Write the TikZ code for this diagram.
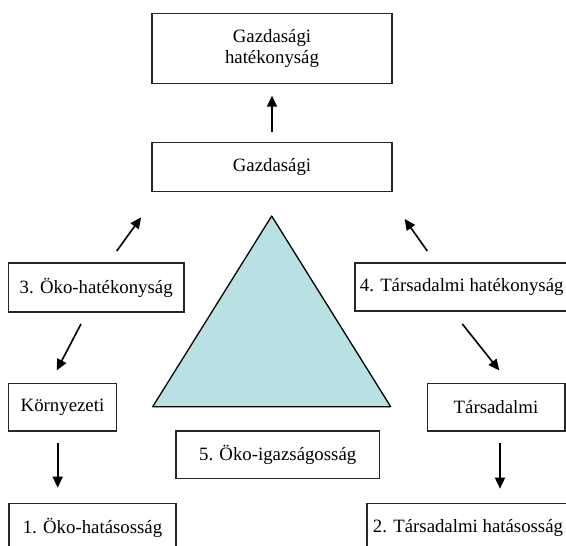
\documentclass[tikz,border=0pt]{standalone}
\usepackage{fontspec}
\setmainfont{Liberation Serif}
\usetikzlibrary{arrows.meta}
\definecolor{trifill}{RGB}{185,224,226}

\begin{document}
\begin{tikzpicture}[x=1pt, y=-1pt,
		box/.style={draw=black!85, line width=1.3pt, inner sep=0pt, align=center,
			font=\fontsize{18.8}{21}\selectfont},
		arr/.style={-{Triangle[length=11pt,width=10pt]}, line width=1.6pt}]
	\useasboundingbox (0,0) rectangle (566,546);

	% Draw the triangle in the middle
	\draw[fill=trifill, line width=1.3pt, line join=round] (271.7,216) -- (390.7,406.7) -- (152.7,406.7) -- cycle;

	% Draw the boxes
	\node[box, minimum width=240pt, minimum height=70pt] (hat) at (272,48.3) {Gazdasági\\hatékonyság};
	\node[box, minimum width=240pt, minimum height=49pt] (gaz) at (272,167.2) {Gazdasági};
	\node[box, minimum width=175.7pt, minimum height=49pt] (oh) at (96.2,287.5) {3. Öko-hatékonyság};
	\node[box, minimum width=213.4pt, minimum height=48pt] (th) at (461.7,287) {4. Társadalmi hatékonyság};
	\node[box, minimum width=108.4pt, minimum height=47.7pt] (kor) at (62.5,407.2) {Környezeti};
	\node[box, minimum width=137.7pt, minimum height=47.7pt] (tar) at (496,407.2) {Társadalmi};
	\node[box, minimum width=203.3pt, minimum height=47.3pt] (oig) at (277.7,454.7) {5. Öko-igazságosság};
	\node[box, minimum width=167pt, minimum height=48.7pt] (e1) at (92.5,527.7) {1. Öko-hatásosság};
	\node[box, minimum width=202pt, minimum height=48.7pt] (t2) at (468,527.7) {2. Társadalmi hatásosság};

	% Draw the arrows
	\draw[arr] ([yshift=10pt]gaz.north) -- ([yshift=-11.7pt]hat.south);
	\draw[arr] ([xshift=20.5pt, yshift=11.3pt]oh.north) -- ([xshift=-10.3pt, yshift=-25pt]gaz.south west);
	\draw[arr] ([xshift=-34.4pt, yshift=11.3pt]th.north) -- ([xshift=12pt, yshift=-26.6pt]gaz.south east);
	\draw[arr] ([xshift=-15.2pt, yshift=-11.3pt]oh.south) -- ([xshift=-5.8pt, yshift=12.3pt]kor.north);
	\draw[arr] ([xshift=0.6pt, yshift=-12.3pt]th.south) -- ([xshift=3.3pt, yshift=12.3pt]tar.north);
	\draw[arr] ([xshift=-4.8pt, yshift=-11.7pt]kor.south) -- ([xshift=-34.8pt, yshift=15pt]e1.north);
	\draw[arr] ([xshift=4pt, yshift=-11.7pt]tar.south) -- ([xshift=32pt, yshift=14pt]t2.north);

\end{tikzpicture}
\end{document}
